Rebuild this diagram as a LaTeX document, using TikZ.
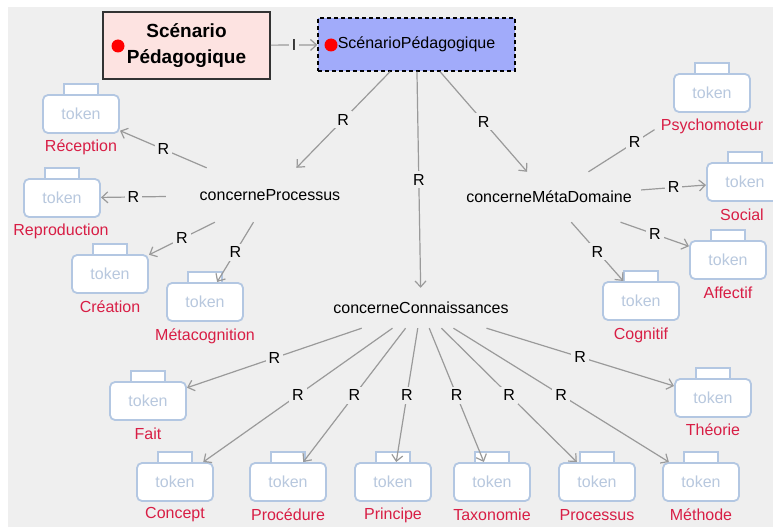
\documentclass[tikz,border=0pt]{standalone}
\usepackage{fontspec}
\setmainfont{Liberation Sans}
\usetikzlibrary{arrows.meta,calc}
\definecolor{bg}{HTML}{EFEFEF}
\definecolor{tokc}{HTML}{B3C7E2}
\definecolor{tokt}{HTML}{B8C8DE}
\definecolor{labc}{HTML}{D81E45}
\definecolor{edgec}{HTML}{9A9A9A}
\definecolor{pinkf}{HTML}{FDE3E1}
\definecolor{bluef}{HTML}{A1ABFA}
\tikzset{
  every node/.style={font=\fontsize{16}{19}\selectfont},
  tok/.style={draw=tokc, line width=1.8pt, fill=white, rounded corners=5pt,
    minimum width=76pt, minimum height=38pt, text=tokt, inner sep=0pt, outer sep=1pt},
  tabst/.style={draw=tokc, line width=1.8pt, fill=white},
  toklab/.style={text=labc, fill=bg, inner sep=1pt},
  relnode/.style={inner sep=0pt},
  edge/.style={draw=edgec, line width=1.2pt, -{Straight Barb[length=6pt,width=11pt]}},
  rl/.style={fill=bg, inner sep=3pt, midway, text=black},
  reddot/.style={circle, fill=red, minimum size=13pt, inner sep=0pt}
}
\newcommand\mytok[3]{%
  \draw[tabst] (#2-17,#3-18) -- (#2-17,#3-30) -- (#2+17,#3-30) -- (#2+17,#3-18);
  \node[tok] (#1) at (#2,#3) {token};}
\begin{document}
\begin{tikzpicture}[x=1pt,y=-1pt]
\useasboundingbox (0,0) rectangle (773,527);
\clip (0,0) rectangle (773,527);
\fill[white] (0,0) rectangle (773,527);
\fill[bg] (8,7) rectangle (773,527);

% class and individual
\node[draw=black!80, line width=1.5pt, fill=pinkf, minimum width=167pt, minimum height=67pt,
  align=center, font=\bfseries\fontsize{19}{26}\selectfont] (cls) at (186.5,45.5) {Scénario\\Pédagogique};
\node[draw=black, dash pattern=on 4pt off 3pt, line width=1.3pt, fill=bluef,
  minimum width=197pt, minimum height=53pt] (ind) at (416.5,44.5) {ScénarioPédagogique};
\node[reddot] (d1) at (118,46) {};
\node[reddot] (d2) at (331,45) {};

% relation nodes
\node[relnode, minimum width=208pt, minimum height=54pt] (cp) at (270,195) {concerneProcessus};
\node[relnode, minimum width=184pt, minimum height=50pt] (cm) at (549,197) {concerneMétaDomaine};
\node[relnode, minimum width=260pt, minimum height=40pt] (cc) at (421,308) {concerneConnaissances};

% tokens
\mytok{trec}{81}{114}
\mytok{trep}{62}{198}
\mytok{tcre}{110}{274}
\mytok{tmet}{205}{302}
\mytok{tpsy}{712}{93}
\mytok{tsoc}{745}{182}
\mytok{taff}{728}{260}
\mytok{tcog}{641}{301}
\mytok{tfait}{148}{401}
\mytok{ttheo}{713}{398}
\mytok{tconc}{175}{482}
\mytok{tproc}{288}{482}
\mytok{tprin}{393}{482}
\mytok{ttax}{492}{482}
\mytok{tpss}{597}{482}
\mytok{tmeth}{701}{482}

% edges
\draw[edge] (cls) -- node[rl]{I} (ind);
\draw[edge] (ind) -- node[rl]{R} (cp);
\draw[edge] (ind) -- node[rl]{R} (cc);
\draw[edge] (ind) -- node[rl]{R} (cm);

\draw[edge] (cp) -- node[rl]{R} (trec);
\draw[edge] (cp) -- node[rl]{R} (trep);
\draw[edge] (cp) -- node[rl]{R} (tcre);
\draw[edge] (cp) -- node[rl]{R} (tmet);

\draw[edge, -, shorten >=31pt] (cm) -- node[rl]{R} (tpsy);
\draw[edge] (cm) -- node[rl]{R} (tsoc);
\draw[edge] (cm) -- node[rl]{R} (taff);
\draw[edge] (cm) -- node[rl]{R} (tcog);

\draw[edge] (cc) -- node[rl]{R} (tfait);
\draw[edge] (cc) -- node[rl]{R} (tconc);
\draw[edge] (cc) -- node[rl]{R} (tproc);
\draw[edge] (cc) -- node[rl]{R} (tprin);
\draw[edge] (cc) -- node[rl]{R} (ttax);
\draw[edge] (cc) -- node[rl]{R} (tpss);
\draw[edge] (cc) -- node[rl]{R} (tmeth);
\draw[edge] (cc) -- node[rl]{R} (ttheo);

% token labels
\node[toklab] (lrec) at (81,147) {Réception};
\node[toklab] (lrep) at (61,231) {Reproduction};
\node[toklab] (lcre) at (110,307) {Création};
\node[toklab] (lmet) at (205,336) {Métacognition};
\node[toklab] (lpsy) at (712,126) {Psychomoteur};
\node[toklab] (lsoc) at (742,215) {Social};
\node[toklab] (laff) at (728,293) {Affectif};
\node[toklab] (lcog) at (641,335) {Cognitif};
\node[toklab] (lfait) at (148,434) {Fait};
\node[toklab] (ltheo) at (713,430) {Théorie};
\node[toklab] (lconc) at (175,515) {Concept};
\node[toklab] (lproc) at (288,515) {Procédure};
\node[toklab] (lprin) at (393,515) {Principe};
\node[toklab] (ltax) at (492,515) {Taxonomie};
\node[toklab] (lpss) at (597,515) {Processus};
\node[toklab] (lmeth) at (701,515) {Méthode};
\end{tikzpicture}
\end{document}
